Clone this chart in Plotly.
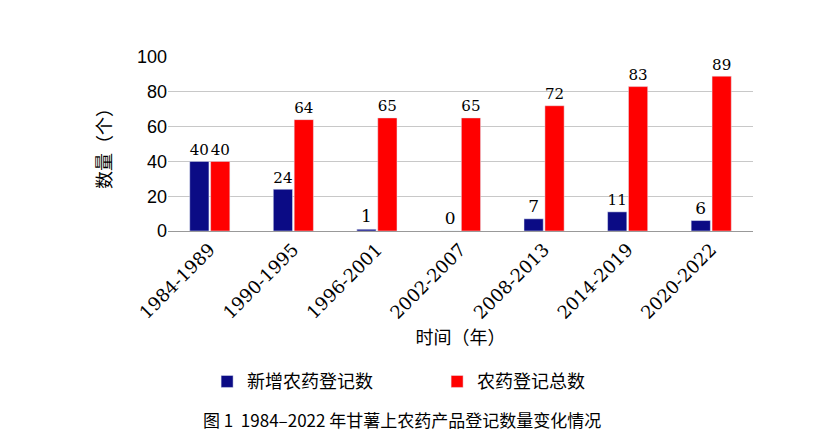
import plotly.graph_objects as go

periods = ["1984-1989","1990-1995","1996-2001","2002-2007","2008-2013","2014-2019","2020-2022"]
new_reg = [40,24,1,0,7,11,6]
total_reg = [40,64,65,65,72,83,89]

font_cjk = "Noto Sans CJK SC"
fig = go.Figure()
fig.add_bar(x=periods, y=new_reg, name="新增农药登记数", marker_color="#0b0b85",
            text=new_reg, textposition="outside", textfont=dict(family="DejaVu Serif", size=17, color="black"),
            cliponaxis=False)
fig.add_bar(x=periods, y=total_reg, name="农药登记总数", marker_color="#ff0000",
            text=total_reg, textposition="outside", textfont=dict(family="DejaVu Serif", size=17, color="black"),
            cliponaxis=False)
fig.update_layout(
    width=815, height=444, plot_bgcolor="white", paper_bgcolor="white",
    margin=dict(l=160, r=70, t=49, b=221),
    barmode="group", bargap=0.5, bargroupgap=0.08,
    font=dict(family=font_cjk, color="black"),
    xaxis=dict(tickangle=-45, tickfont=dict(family="DejaVu Serif", size=18), showline=True, automargin=False,
               linecolor="#999", title=dict(text="时间（年）", font=dict(size=18, family=font_cjk), standoff=8)),
    yaxis=dict(range=[0,100], dtick=20, showgrid=True, gridcolor="#c8c8c8", zeroline=False, automargin=False,
               tickfont=dict(family="Liberation Sans", size=18),
               title=dict(text="数量（个）", font=dict(size=18, family=font_cjk), standoff=20)),
    legend=dict(orientation="h", x=0.46, xanchor="center", y=-0.76, yanchor="top",
                font=dict(size=18, family=font_cjk), itemwidth=30, tracegroupgap=60,
                entrywidth=185),
    annotations=[dict(text="图 1  1984–2022 年甘薯上农药产品登记数量变化情况", xref="paper", yref="paper",
                      x=0.4, y=-1.0, yanchor="top", showarrow=False,
                      font=dict(size=17, family=font_cjk))],
)
fig.write_html("out.html")
